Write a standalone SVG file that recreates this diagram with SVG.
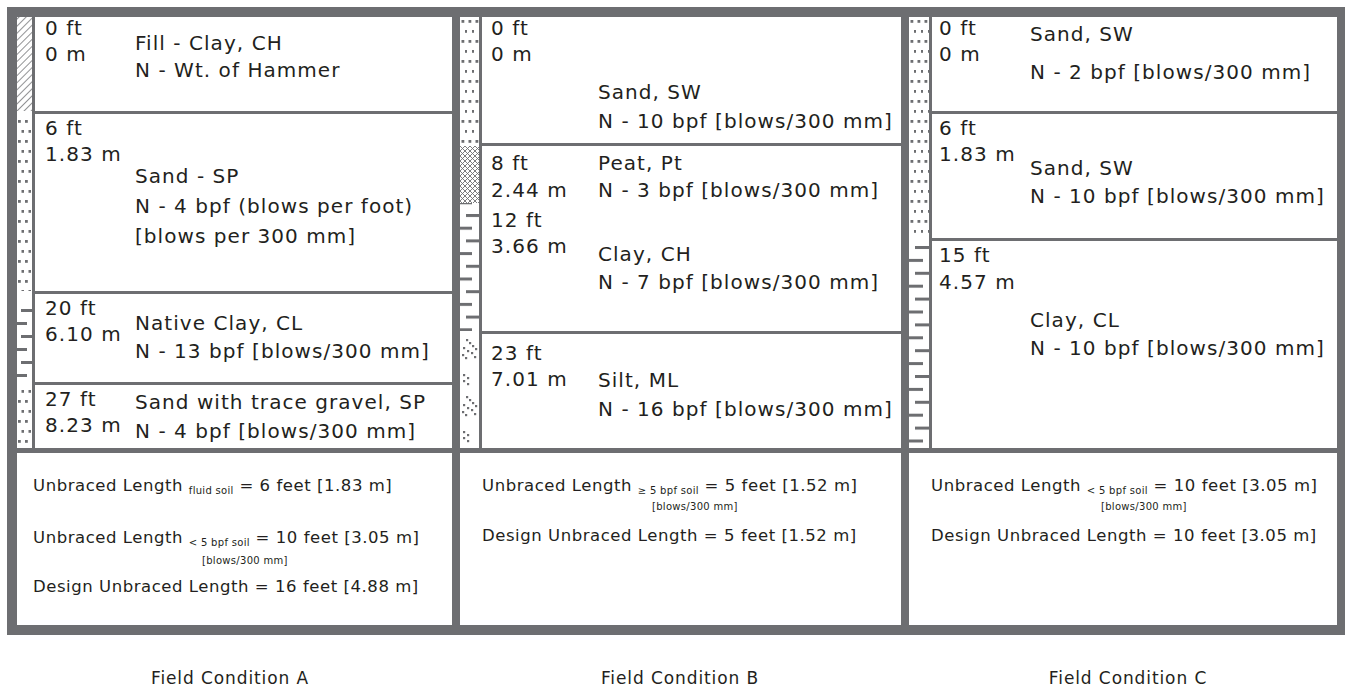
<svg xmlns="http://www.w3.org/2000/svg" width="1352" height="692" viewBox="0 0 1352 692">
<style>
  text { font-family: "DejaVu Sans", "Liberation Sans", sans-serif; fill: #231f20; }
  .t { font-size: 20px; letter-spacing: 1.05px; }
  .b { font-size: 16.5px; letter-spacing: 0.55px; }
  .sub { font-size: 10px; letter-spacing: 0.3px; }
  .cap { font-size: 17px; letter-spacing: 0.9px; text-anchor: middle; }
  .cell { fill: #ffffff; }
  .g { fill: #6d6e71; }
</style>
<defs>
  <pattern id="hatch" patternUnits="userSpaceOnUse" width="5" height="5" patternTransform="rotate(45)">
    <line x1="0" y1="0" x2="0" y2="5" stroke="#6d6e71" stroke-width="1.5"/>
  </pattern>
  <pattern id="sandA" patternUnits="userSpaceOnUse" x="17" y="17" width="7" height="20">
    <rect x="1" y="3" width="2.8" height="2.8" fill="#6d6e71"/>
    <rect x="4.5" y="13" width="2.8" height="2.8" fill="#6d6e71"/>
  </pattern>
  <pattern id="sandB" patternUnits="userSpaceOnUse" x="460" y="17" width="7" height="20">
    <rect x="1.5" y="3" width="2.8" height="2.8" fill="#6d6e71"/>
    <rect x="5" y="13" width="2.8" height="2.8" fill="#6d6e71"/>
  </pattern>
  <pattern id="sandC" patternUnits="userSpaceOnUse" x="909" y="17" width="7" height="20">
    <rect x="1.5" y="3" width="2.8" height="2.8" fill="#6d6e71"/>
    <rect x="5" y="13" width="2.8" height="2.8" fill="#6d6e71"/>
  </pattern>
  <pattern id="clayA" patternUnits="userSpaceOnUse" x="17" y="309" width="15" height="26">
    <rect x="4" y="0" width="11" height="3" fill="#6d6e71"/>
    <rect x="0" y="13" width="10" height="3" fill="#6d6e71"/>
  </pattern>
  <pattern id="clayB" patternUnits="userSpaceOnUse" x="460" y="214" width="19" height="25.4">
    <rect x="6" y="0" width="13" height="3" fill="#6d6e71"/>
    <rect x="0" y="12.7" width="12" height="3" fill="#6d6e71"/>
  </pattern>
  <pattern id="clayC" patternUnits="userSpaceOnUse" x="909" y="246" width="20" height="25.8">
    <rect x="6" y="0" width="14" height="3" fill="#6d6e71"/>
    <rect x="0" y="12.9" width="14" height="3" fill="#6d6e71"/>
  </pattern>
  <pattern id="peat" patternUnits="userSpaceOnUse" x="460" y="146" width="5" height="5">
    <path d="M0,0 L5,5 M5,0 L0,5" stroke="#6d6e71" stroke-width="0.9" fill="none"/>
  </pattern>
  <pattern id="silt" patternUnits="userSpaceOnUse" x="460" y="339" width="19" height="57">
    <g fill="#6d6e71">
      <rect x="6" y="0" width="2.2" height="2.2"/>
      <rect x="9" y="3" width="2.2" height="2.2"/>
      <rect x="12" y="6" width="2.2" height="2.2"/>
      <rect x="15" y="9" width="2.2" height="2.2"/>
      <rect x="3" y="8" width="2.2" height="2.2"/>
      <rect x="7" y="11" width="2.2" height="2.2"/>
      <rect x="11" y="13" width="2.2" height="2.2"/>
      <rect x="2" y="15" width="2.2" height="2.2"/>
      <rect x="5" y="18" width="2.2" height="2.2"/>
      <rect x="14" y="17" width="2.2" height="2.2"/>
      <rect x="3" y="35" width="2.2" height="2.2"/>
      <rect x="7" y="38" width="2.2" height="2.2"/>
      <rect x="3" y="41" width="2.2" height="2.2"/>
      <rect x="7" y="44" width="2.2" height="2.2"/>
    </g>
  </pattern>
</defs>

<rect id="frame" class="g" x="7" y="7" width="1338" height="628"/>

<!-- Field Condition A -->
<g id="panel-a">
  <g id="a-strip">
    <rect class="cell" x="17" y="17" width="15" height="431"/>
    <rect x="17" y="17" width="15" height="94" fill="url(#hatch)"/>
    <rect x="17" y="114" width="15" height="177" fill="url(#sandA)"/>
    <rect x="17" y="300" width="15" height="82" fill="url(#clayA)"/>
    <rect x="17" y="385" width="15" height="63" fill="url(#sandA)"/>
  </g>
  <g id="a-layer1">
    <rect class="cell" x="35" y="17" width="417" height="94"/>
    <text class="t" x="45" y="35">0 ft</text>
    <text class="t" x="45" y="61">0 m</text>
    <text class="t" x="135" y="50">Fill - Clay, CH</text>
    <text class="t" x="135" y="77">N - Wt. of Hammer</text>
  </g>
  <g id="a-layer2">
    <rect class="cell" x="35" y="114" width="417" height="177"/>
    <text class="t" x="45" y="135">6 ft</text>
    <text class="t" x="45" y="161">1.83 m</text>
    <text class="t" x="135" y="183">Sand - SP</text>
    <text class="t" x="135" y="213">N - 4 bpf (blows per foot)</text>
    <text class="t" x="135" y="243">[blows per 300 mm]</text>
  </g>
  <g id="a-layer3">
    <rect class="cell" x="35" y="294" width="417" height="88"/>
    <text class="t" x="45" y="315">20 ft</text>
    <text class="t" x="45" y="341">6.10 m</text>
    <text class="t" x="135" y="330">Native Clay, CL</text>
    <text class="t" x="135" y="358">N - 13 bpf [blows/300 mm]</text>
  </g>
  <g id="a-layer4">
    <rect class="cell" x="35" y="385" width="417" height="63"/>
    <text class="t" x="45" y="406">27 ft</text>
    <text class="t" x="45" y="432">8.23 m</text>
    <text class="t" x="135" y="409">Sand with trace gravel, SP</text>
    <text class="t" x="135" y="438">N - 4 bpf [blows/300 mm]</text>
  </g>
  <g id="a-summary">
    <rect class="cell" x="17" y="453" width="435" height="172"/>
    <text class="b" x="33" y="491">Unbraced Length <tspan class="sub" dy="3">fluid soil</tspan><tspan dy="-3"> = 6 feet [1.83 m]</tspan></text>
    <text class="b" x="33" y="543">Unbraced Length <tspan class="sub" dy="3">&lt; 5 bpf soil</tspan><tspan dy="-3"> = 10 feet [3.05 m]</tspan></text>
    <text class="sub" x="202" y="564">[blows/300 mm]</text>
    <text class="b" x="33" y="592">Design Unbraced Length = 16 feet [4.88 m]</text>
  </g>
</g>

<!-- Field Condition B -->
<g id="panel-b">
  <g id="b-strip">
    <rect class="cell" x="460" y="17" width="19" height="431"/>
    <rect x="460" y="17" width="19" height="126" fill="url(#sandB)"/>
    <rect x="460" y="146" width="19" height="57" fill="url(#peat)"/>
    <rect x="460" y="203" width="19" height="128" fill="url(#clayB)"/>
    <rect x="460" y="336" width="19" height="112" fill="url(#silt)"/>
  </g>
  <g id="b-layer1">
    <rect class="cell" x="482" y="17" width="419" height="126"/>
    <text class="t" x="491" y="35">0 ft</text>
    <text class="t" x="491" y="61">0 m</text>
    <text class="t" x="598" y="99">Sand, SW</text>
    <text class="t" x="598" y="128">N - 10 bpf [blows/300 mm]</text>
  </g>
  <g id="b-layer2">
    <rect class="cell" x="482" y="146" width="419" height="185"/>
    <text class="t" x="491" y="170">8 ft</text>
    <text class="t" x="491" y="197">2.44 m</text>
    <text class="t" x="491" y="227">12 ft</text>
    <text class="t" x="491" y="253">3.66 m</text>
    <text class="t" x="598" y="170">Peat, Pt</text>
    <text class="t" x="598" y="197">N - 3 bpf [blows/300 mm]</text>
    <text class="t" x="598" y="261">Clay, CH</text>
    <text class="t" x="598" y="289">N - 7 bpf [blows/300 mm]</text>
  </g>
  <g id="b-layer3">
    <rect class="cell" x="482" y="334" width="419" height="114"/>
    <text class="t" x="491" y="360">23 ft</text>
    <text class="t" x="491" y="386">7.01 m</text>
    <text class="t" x="598" y="387">Silt, ML</text>
    <text class="t" x="598" y="416">N - 16 bpf [blows/300 mm]</text>
  </g>
  <g id="b-summary">
    <rect class="cell" x="460" y="453" width="441" height="172"/>
    <text class="b" x="482" y="491">Unbraced Length <tspan class="sub" dy="3">≥ 5 bpf soil</tspan><tspan dy="-3"> = 5 feet [1.52 m]</tspan></text>
    <text class="sub" x="652" y="510">[blows/300 mm]</text>
    <text class="b" x="482" y="541">Design Unbraced Length = 5 feet [1.52 m]</text>
  </g>
</g>

<!-- Field Condition C -->
<g id="panel-c">
  <g id="c-strip">
    <rect class="cell" x="909" y="17" width="20" height="431"/>
    <rect x="909" y="17" width="20" height="221" fill="url(#sandC)"/>
    <rect x="909" y="241" width="20" height="207" fill="url(#clayC)"/>
  </g>
  <g id="c-layer1">
    <rect class="cell" x="932" y="17" width="405" height="94"/>
    <text class="t" x="939" y="35">0 ft</text>
    <text class="t" x="939" y="61">0 m</text>
    <text class="t" x="1030" y="41">Sand, SW</text>
    <text class="t" x="1030" y="79">N - 2 bpf [blows/300 mm]</text>
  </g>
  <g id="c-layer2">
    <rect class="cell" x="932" y="114" width="405" height="124"/>
    <text class="t" x="939" y="135">6 ft</text>
    <text class="t" x="939" y="161">1.83 m</text>
    <text class="t" x="1030" y="175">Sand, SW</text>
    <text class="t" x="1030" y="203">N - 10 bpf [blows/300 mm]</text>
  </g>
  <g id="c-layer3">
    <rect class="cell" x="932" y="241" width="405" height="207"/>
    <text class="t" x="939" y="262">15 ft</text>
    <text class="t" x="939" y="289">4.57 m</text>
    <text class="t" x="1030" y="327">Clay, CL</text>
    <text class="t" x="1030" y="355">N - 10 bpf [blows/300 mm]</text>
  </g>
  <g id="c-summary">
    <rect class="cell" x="909" y="453" width="428" height="172"/>
    <text class="b" x="931" y="491">Unbraced Length <tspan class="sub" dy="3">&lt; 5 bpf soil</tspan><tspan dy="-3"> = 10 feet [3.05 m]</tspan></text>
    <text class="sub" x="1101" y="510">[blows/300 mm]</text>
    <text class="b" x="931" y="541">Design Unbraced Length = 10 feet [3.05 m]</text>
  </g>
</g>

<g id="captions">
  <text class="cap" x="230" y="684">Field Condition A</text>
  <text class="cap" x="680" y="684">Field Condition B</text>
  <text class="cap" x="1128" y="684">Field Condition C</text>
</g>
</svg>
